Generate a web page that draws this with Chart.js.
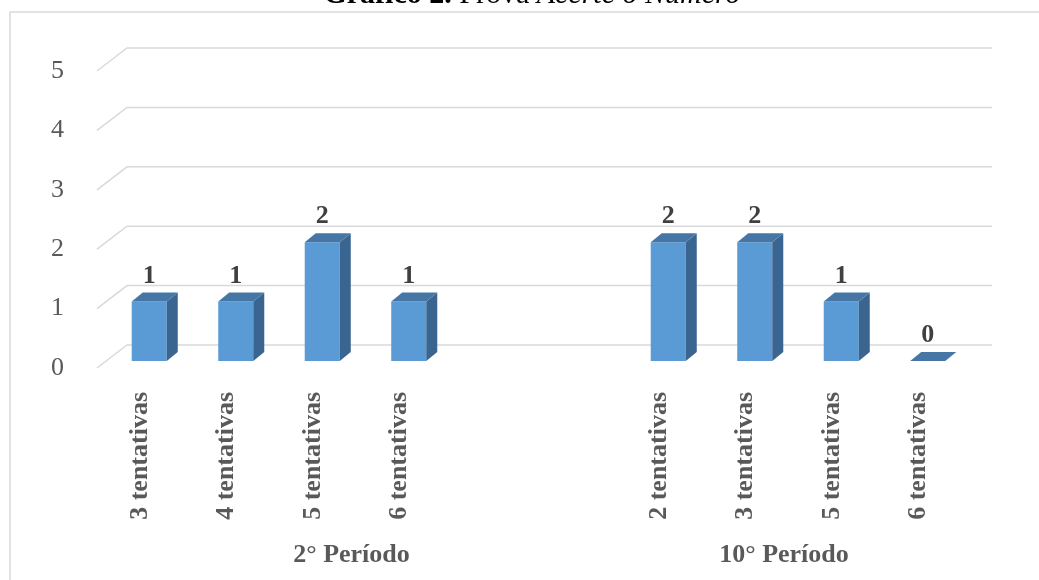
<!DOCTYPE html>
<html>
<head>
<meta charset="utf-8">
<script src="https://cdn.jsdelivr.net/npm/chart.js@4.4.1/dist/chart.umd.min.js"></script>
<style>
  html, body { margin: 0; padding: 0; background: #fff; }
  #wrap { width: 1039px; height: 580px; position: relative; }
</style>
</head>
<body>
<div id="wrap"><canvas id="c-tentativas"></canvas></div>
<script>
const categories = ["3 tentativas", "4 tentativas", "5 tentativas", "6 tentativas", "", "", "2 tentativas", "3 tentativas", "5 tentativas", "6 tentativas"];
const counts = [1, 1, 2, 1, null, null, 2, 2, 1, 0];
const groupLabels = ["2° Período", "10° Período"];
const groupStart = [0, 6];
const groupEnd = [5, 9];
const titleParts = ["Gráfico 2.", " Prova ", "Acerte o Número"];

const serif = "'Times New Roman', 'Liberation Serif', serif";
const gridColor = "#d9d9d9";
const textColor = "#595959";
// perspective offsets: full floor depth and the bar block inside it
const depth = { dx: 30, dy: -23 };
const barShift = { dx: 9, dy: -7 };
const barDepth = { dx: 11, dy: -9 };

const frame3d = {
  id: "frame3d",
  beforeDraw(chart) {
    const ctx = chart.ctx;
    ctx.save();
    ctx.strokeStyle = gridColor;
    ctx.lineWidth = 1.5;
    ctx.beginPath();
    ctx.moveTo(10, 580);
    ctx.lineTo(10, 12);
    ctx.lineTo(1039, 12);
    ctx.stroke();

    // title, cut by the top edge as in the source
    const fonts = ["bold 30px " + serif, "30px " + serif, "italic 30px " + serif];
    let total = 0;
    const widths = titleParts.map((t, i) => {
      ctx.font = fonts[i];
      const w = ctx.measureText(t).width;
      total += w;
      return w;
    });
    let x = 532 - total / 2;
    ctx.fillStyle = "#000";
    ctx.textBaseline = "alphabetic";
    titleParts.forEach((t, i) => {
      ctx.font = fonts[i];
      ctx.fillText(t, x, 3);
      x += widths[i];
    });
    ctx.restore();
  },
  beforeDatasetsDraw(chart) {
    const ctx = chart.ctx;
    const area = chart.chartArea;
    const yScale = chart.scales.y;
    ctx.save();
    ctx.strokeStyle = gridColor;
    ctx.lineWidth = 1.5;
    yScale.ticks.forEach((tick) => {
      const y = yScale.getPixelForValue(tick.value);
      ctx.beginPath();
      ctx.moveTo(area.left, y);
      ctx.lineTo(area.left + depth.dx, y + depth.dy);
      ctx.lineTo(area.right + depth.dx, y + depth.dy);
      ctx.stroke();
    });
    ctx.restore();
    ctx.save();
    ctx.translate(barShift.dx, barShift.dy);
  },
  afterDatasetsDraw(chart) {
    const ctx = chart.ctx;
    const meta = chart.getDatasetMeta(0);
    meta.data.forEach((bar, i) => {
      if (counts[i] === null) return;
      const left = bar.x - bar.width / 2;
      const right = bar.x + bar.width / 2;
      const top = bar.y;
      const base = bar.base;
      ctx.fillStyle = "#3a6590";
      ctx.beginPath();
      ctx.moveTo(right, top);
      ctx.lineTo(right + barDepth.dx, top + barDepth.dy);
      ctx.lineTo(right + barDepth.dx, base + barDepth.dy);
      ctx.lineTo(right, base);
      ctx.closePath();
      ctx.fill();
      ctx.fillStyle = "#4676a6";
      ctx.beginPath();
      ctx.moveTo(left, top);
      ctx.lineTo(left + barDepth.dx, top + barDepth.dy);
      ctx.lineTo(right + barDepth.dx, top + barDepth.dy);
      ctx.lineTo(right, top);
      ctx.closePath();
      ctx.fill();

      ctx.fillStyle = "#404040";
      ctx.font = "bold 26px " + serif;
      ctx.textAlign = "center";
      ctx.textBaseline = "alphabetic";
      ctx.fillText(String(counts[i]), bar.x, top - 19);
    });
    ctx.restore();
  },
  afterDraw(chart) {
    const ctx = chart.ctx;
    const xScale = chart.scales.x;
    ctx.save();
    ctx.fillStyle = textColor;
    ctx.font = "bold 26px " + serif;
    ctx.textAlign = "center";
    ctx.textBaseline = "alphabetic";
    groupLabels.forEach((label, i) => {
      const x = (xScale.getPixelForValue(groupStart[i]) + xScale.getPixelForValue(groupEnd[i])) / 2 - 5;
      ctx.fillText(label, x, 562);
    });
    ctx.restore();
  }
};

new Chart(document.getElementById("c-tentativas"), {
  type: "bar",
  data: {
    labels: categories,
    datasets: [{
      data: counts,
      backgroundColor: "#5b9bd5",
      borderWidth: 0,
      barPercentage: 0.405,
      categoryPercentage: 1
    }]
  },
  options: {
    responsive: true,
    maintainAspectRatio: false,
    animation: false,
    events: [],
    layout: { padding: { top: 71, right: 77, bottom: 0, left: 0 } },
    plugins: { legend: { display: false }, tooltip: { enabled: false }, title: { display: false } },
    scales: {
      x: {
        grid: { display: false },
        border: { display: false },
        ticks: {
          color: textColor,
          font: { family: serif, size: 26, weight: "bold" },
          minRotation: 90,
          maxRotation: 90,
          autoSkip: false,
          padding: 16
        },
        afterFit(scale) { scale.height = 212; }
      },
      y: {
        min: 0,
        max: 5,
        grid: { display: false },
        border: { display: false },
        ticks: {
          stepSize: 1,
          color: textColor,
          font: { family: serif, size: 26 },
          padding: 25
        },
        afterFit(scale) { scale.width = 97; }
      }
    }
  },
  plugins: [frame3d]
});
</script>
</body>
</html>
